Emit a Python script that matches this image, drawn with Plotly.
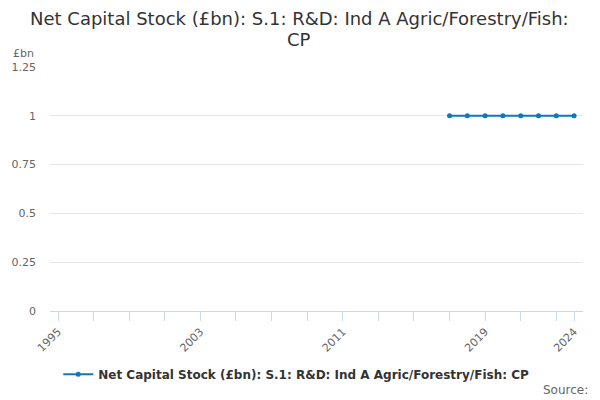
import plotly.graph_objects as go

years = [2017, 2018, 2019, 2020, 2021, 2022, 2023, 2024]
values = [1, 1, 1, 1, 1, 1, 1, 1]
tick_positions = list(range(1995, 2024, 2)) + [2024]
labelled = {1995: "1995", 2003: "2003", 2011: "2011", 2019: "2019", 2024: "2024"}
tick_text = [labelled.get(t, "") for t in tick_positions]
y_ticks = [0, 0.25, 0.5, 0.75, 1, 1.25]
series_name = "Net Capital Stock (£bn): S.1: R&D: Ind A Agric/Forestry/Fish: CP"
title_lines = ["Net Capital Stock (£bn): S.1: R&D: Ind A Agric/Forestry/Fish:", "CP"]

font = "DejaVu Sans, sans-serif"
color = "#0b78c2"

fig = go.Figure()
fig.add_trace(go.Scatter(
    x=years, y=values, mode="lines+markers", name=series_name,
    line=dict(color=color, width=2), marker=dict(color=color, size=5),
))

fig.update_layout(
    width=600, height=400,
    margin=dict(l=50, r=17, t=67, b=89, autoexpand=False),
    paper_bgcolor="white", plot_bgcolor="white",
    font=dict(family=font, color="#666666"),
    showlegend=True,
    legend=dict(orientation="h", x=0.462, xanchor="center", y=-0.2, yanchor="top",
                font=dict(family=font, size=12, color="#333333", weight="bold")),
    xaxis=dict(range=[1994.55, 2024.5], tickvals=tick_positions, ticktext=tick_text,
               tickangle=-45, ticks="outside", ticklen=9, tickcolor="#ccd6eb",
               showgrid=False, showline=True, linecolor="#ccd6eb", zeroline=False,
               automargin=False, tickfont=dict(size=11, color="#666666")),
    yaxis=dict(range=[0, 1.25], tickvals=y_ticks, showgrid=True, gridcolor="#e6e6e6",
               zeroline=False, showline=False, ticks="", ticklabelstandoff=13,
               automargin=False, tickfont=dict(size=11, color="#666666")),
)
for line, yp in zip(title_lines, [1.2008, 1.1107]):
    fig.add_annotation(text=line, xref="paper", yref="paper", x=0.468, y=yp,
                       xanchor="center", yanchor="middle", showarrow=False,
                       font=dict(family=font, size=18, color="#333333"))
fig.add_annotation(text="£bn", xref="paper", yref="paper", x=-0.074, y=1.02,
                   xanchor="left", yanchor="bottom", showarrow=False,
                   font=dict(family=font, size=11, color="#666666"))
fig.add_annotation(text="Source:", xref="paper", yref="paper", x=1.013, y=-0.288,
                   xanchor="right", yanchor="top", showarrow=False,
                   font=dict(family=font, size=12, color="#666666"))
fig.write_html("out.html", config={"displayModeBar": False},
               post_script="document.body.style.margin='0';")
